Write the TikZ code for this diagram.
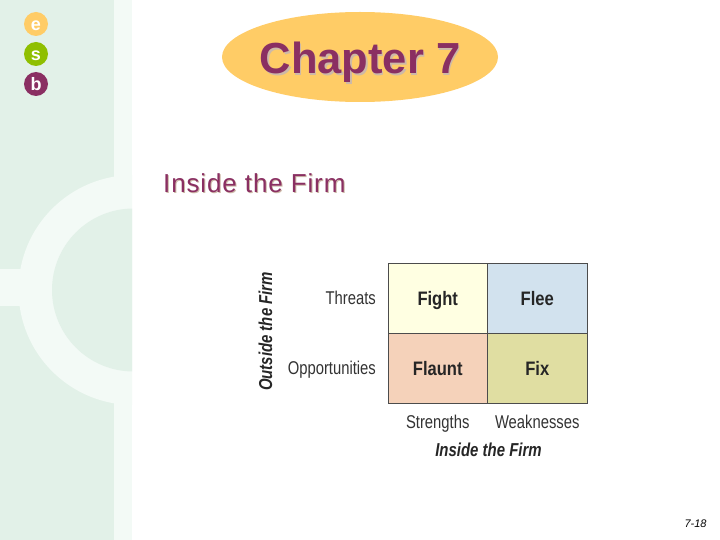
\documentclass[tikz,border=0pt]{standalone}
\usepackage{fontspec}
\setmainfont{Liberation Sans}
\definecolor{bandgreen}{HTML}{E2F1E8}
\definecolor{palegreen}{HTML}{F3FAF6}
\definecolor{plum}{HTML}{8A2F62}
\definecolor{plumshade}{HTML}{CDB9A8}
\definecolor{peach}{HTML}{FFCC66}
\definecolor{leaf}{HTML}{8FBF00}
\definecolor{fightcol}{HTML}{FFFFE2}
\definecolor{fleecol}{HTML}{D2E2EE}
\definecolor{flauntcol}{HTML}{F5D2BA}
\definecolor{fixcol}{HTML}{E0DEA2}
\newcommand{\narrowtext}[2][0.85]{\scalebox{#1}[1]{#2}}
\tikzset{
  tab/.style={circle,minimum size=24pt,inner sep=0pt,text=white,text height=13pt,text depth=0pt,
    font=\fontsize{18}{18}\selectfont\bfseries},
  cell/.style={draw=black!70,line width=0.9pt,minimum width=99.5pt,minimum height=70pt,inner sep=0pt,
    text height=14pt,text depth=0pt,font=\fontsize{19.5}{19.5}\selectfont\bfseries,text=black!85},
  side/.style={inner sep=0pt,xscale=0.8,transform shape,font=\fontsize{18.5}{18.5}\selectfont,text=black!80},
  axis/.style={inner sep=0pt,font=\fontsize{18.7}{18.7}\selectfont\bfseries\itshape,text=black!85}
}
\begin{document}
\begin{tikzpicture}[x=1pt,y=-1pt]
  \useasboundingbox (0,0) rectangle (720,540);
  \fill[white] (0,0) rectangle (720,540);
  % side band
  \fill[palegreen] (0,0) rectangle (132,540);
  \fill[bandgreen] (0,0) rectangle (114,540);
  \begin{scope}
    \clip (0,0) rectangle (132,540);
    \fill[palegreen] (133.5,290) circle (115);
    \fill[bandgreen] (133.5,290) circle (81.5);
  \end{scope}
  \fill[palegreen] (0,269) rectangle (22,306);
  % tabs
  \foreach \y/\t/\c in {24/e/peach,54/s/leaf,84/b/plum}
    \node[tab,fill=\c] (tab\t) at (36,\y) {\t};
  % title
  \fill[peach] (360,57) ellipse (138 and 45);
  \node[inner sep=0pt,anchor=base,text=plumshade,font=\fontsize{43.5}{43.5}\selectfont\bfseries] (titleshade) at (361.5,75.5) {Chapter 7};
  \node[inner sep=0pt,anchor=base,text=plum,font=\fontsize{43.5}{43.5}\selectfont\bfseries] (title) at (360,74) {Chapter 7};
  \node[inner sep=0pt,anchor=base west,text=plumshade,font=\fontsize{26}{26}\selectfont\addfontfeature{LetterSpace=3.3}] (subshade) at (164,193.5) {Inside the Firm};
  \node[inner sep=0pt,anchor=base west,text=plum,font=\fontsize{26}{26}\selectfont\addfontfeature{LetterSpace=3.3}] (sub) at (163,192.5) {Inside the Firm};
  % matrix
  \node[cell,fill=fightcol] (fight) at (437.75,298) {\narrowtext{Fight}};
  \node[cell,fill=fleecol] (flee) at (537.25,298) {\narrowtext{Flee}};
  \node[cell,fill=flauntcol] (flaunt) at (437.75,368) {\narrowtext{Flaunt}};
  \node[cell,fill=fixcol] (fix) at (537.25,368) {\narrowtext{Fix}};
  % labels
  \node[side,anchor=base east] (threats) at (376,304) {Threats};
  \node[side,anchor=base east] (opps) at (376,374) {Opportunities};
  \node[side,anchor=base] (strengths) at (437.75,428) {Strengths};
  \node[side,anchor=base] (weak) at (537.25,428) {Weaknesses};
  \node[axis,anchor=base] (inside) at (488.5,456.5) {\narrowtext[0.8]{Inside the Firm}};
  \node[axis,rotate=90] (outside) at (265.5,331.5) {\narrowtext[0.8]{Outside the Firm}};
  % page number
  \node[inner sep=0pt,font=\fontsize{11}{11}\selectfont\itshape] (page) at (695.5,523.5) {7-18};
\end{tikzpicture}
\end{document}
